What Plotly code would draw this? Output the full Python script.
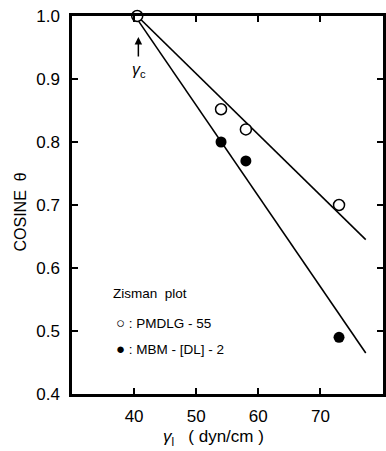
import plotly.graph_objects as go

# Data
open_x = [40.5, 54.0, 58.0, 73.0]
open_y = [1.0, 0.852, 0.82, 0.70]
filled_x = [54.0, 58.0, 73.0]
filled_y = [0.80, 0.77, 0.49]
fit_x = [40.5, 77.3]
upper_fit_y = [1.0, 0.645]
lower_fit_y = [0.995, 0.465]

x_ticks = [40, 50, 60, 70]
y_ticks = [0.4, 0.5, 0.6, 0.7, 0.8, 0.9, 1.0]

FONT = "Liberation Sans, Arial, sans-serif"
L, T, W, H = 72, 16, 314, 378


def px(x, y):
    return (x - L) / W, (T + H - y) / H


fig = go.Figure()
fig.add_trace(go.Scatter(x=fit_x, y=upper_fit_y, mode="lines",
                         line=dict(color="black", width=1.6), showlegend=False))
fig.add_trace(go.Scatter(x=fit_x, y=lower_fit_y, mode="lines",
                         line=dict(color="black", width=1.6), showlegend=False))
fig.add_trace(go.Scatter(x=filled_x, y=filled_y, mode="markers",
                         marker=dict(symbol="circle", size=11, color="black"),
                         showlegend=False))
fig.add_trace(go.Scatter(x=open_x, y=open_y, mode="markers",
                         marker=dict(symbol="circle", size=11, color="white",
                                     line=dict(color="black", width=1.5)),
                         showlegend=False, cliponaxis=False))

fig.update_xaxes(range=[30, 80.08], tickvals=x_ticks, ticks="inside", ticklen=6,
                 tickwidth=1.5, tickcolor="black", showline=True, linewidth=2.5,
                 linecolor="black", mirror="ticks", showgrid=False, zeroline=False,
                 ticklabelstandoff=5,
                 tickfont=dict(family=FONT, size=17, color="black"))
fig.update_yaxes(range=[0.4, 1.0], tickvals=y_ticks, tickformat=".1f", ticks="inside",
                 ticklen=6, tickwidth=1.5, tickcolor="black", showline=True,
                 linewidth=2.5, linecolor="black", mirror="ticks", showgrid=False,
                 zeroline=False, ticklabelstandoff=6,
                 tickfont=dict(family=FONT, size=17, color="black"))

texts = [
    (20, 212, "COSINE  θ", 16, "center", -90),
    (215, 438, "<i>γ</i><sub>l</sub>   ( dyn/cm )", 17, "center", 0),
    (111, 293, "Zisman  plot", 13.5, "left", 0),
    (114, 322, "<span style='font-size:15px'>○</span> : PMDLG - 55", 13.5, "left", 0),
    (114, 348, "<span style='font-size:15px'>●</span> : MBM - [DL] - 2", 13.5, "left", 0),
    (140, 70, "<i>γ</i><sub>c</sub>", 16, "center", 0),
]
annotations = []
for x, y, t, s, xa, ang in texts:
    ax_, ay_ = px(x, y)
    annotations.append(dict(x=ax_, y=ay_, xref="paper", yref="paper", text=t,
                            showarrow=False, xanchor=xa, yanchor="middle",
                            textangle=ang,
                            font=dict(family=FONT, size=s, color="black")))

# arrow pointing up to gamma_c
hx, hy = px(139, 37)
annotations.append(dict(x=hx, y=hy, ax=0, ay=21, xref="paper", yref="paper",
                        showarrow=True, arrowhead=2, arrowsize=1, arrowwidth=1.5,
                        arrowcolor="black", text=""))

fig.update_layout(width=386, height=451, margin=dict(l=L, r=0, t=T, b=451 - T - H),
                  plot_bgcolor="white", paper_bgcolor="white", annotations=annotations,
                  font=dict(family=FONT, color="black"))

fig.write_html("out.html")
